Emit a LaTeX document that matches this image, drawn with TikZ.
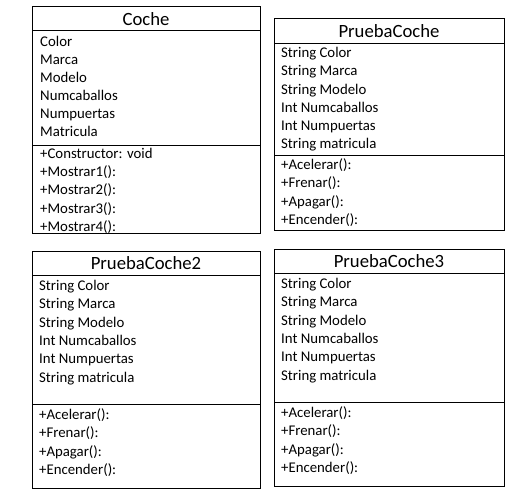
\documentclass[tikz,border=0pt]{standalone}
\usepackage{fontspec}
\setmainfont{Carlito}
\tikzset{
  cls/.style={draw=black, line width=0.8pt, rectangle, inner sep=0pt, anchor=north west},
  ttl/.style={anchor=base, font=\fontsize{18.7}{20}\selectfont, inner sep=0pt},
  itm/.style={anchor=base west, font=\fontsize{14.8}{16}\selectfont, inner sep=0pt},
  sepline/.style={line width=0.8pt}
}
\begin{document}
\begin{tikzpicture}[x=1pt,y=-1pt]
\useasboundingbox (0,0) rectangle (530,497);
% Coche
\node[cls, minimum width=228pt, minimum height=227pt] (coche) at (32,6) {};
\draw[sepline] (32,30) -- (260,30);
\draw[sepline] (32,145) -- (260,145);
\node[ttl] (cocheT) at (146,25.5) {Coche};
\foreach \t [count=\i from 0] in {Color,Marca,Modelo,Numcaballos,Numpuertas,Matricula}
  \node[itm] (cocheA\i) at (40,{46.5+18.1*\i}) {\t};
\foreach \t [count=\i from 0] in {+Constructor: void,+Mostrar1():,+Mostrar2():,+Mostrar3():,+Mostrar4():}
  \node[itm] (cocheM\i) at (40,{158.5+18.2*\i}) {\t};
% PruebaCoche
\node[cls, minimum width=230pt, minimum height=212pt] (pc) at (274,18) {};
\draw[sepline] (274,43) -- (504,43);
\draw[sepline] (274,155) -- (504,155);
\node[ttl] (pcT) at (389,37.5) {PruebaCoche};
\foreach \t [count=\i from 0] in {String Color,String Marca,String Modelo,Int Numcaballos,Int Numpuertas,String matricula}
  \node[itm] (pcA\i) at (281,{57.5+18.3*\i}) {\t};
\foreach \t [count=\i from 0] in {+Acelerar():,+Frenar():,+Apagar():,+Encender():}
  \node[itm] (pcM\i) at (281,{169.5+18.3*\i}) {\t};
% PruebaCoche2
\node[cls, minimum width=228pt, minimum height=237pt] (pcb) at (32,251) {};
\draw[sepline] (32,275) -- (260,275);
\draw[sepline] (32,404) -- (260,404);
\node[ttl] (pcbT) at (146,269.5) {PruebaCoche2};
\foreach \t [count=\i from 0] in {String Color,String Marca,String Modelo,Int Numcaballos,Int Numpuertas,String matricula}
  \node[itm] (pcbA\i) at (39,{290.5+18.3*\i}) {\t};
\foreach \t [count=\i from 0] in {+Acelerar():,+Frenar():,+Apagar():,+Encender():}
  \node[itm] (pcbM\i) at (39,{419.5+18.3*\i}) {\t};
% PruebaCoche3
\node[cls, minimum width=230pt, minimum height=237pt] (pcc) at (274,249) {};
\draw[sepline] (274,273) -- (504,273);
\draw[sepline] (274,402) -- (504,402);
\node[ttl] (pccT) at (389,267.5) {PruebaCoche3};
\foreach \t [count=\i from 0] in {String Color,String Marca,String Modelo,Int Numcaballos,Int Numpuertas,String matricula}
  \node[itm] (pccA\i) at (281,{288.5+18.3*\i}) {\t};
\foreach \t [count=\i from 0] in {+Acelerar():,+Frenar():,+Apagar():,+Encender():}
  \node[itm] (pccM\i) at (281,{417.5+18.3*\i}) {\t};
\end{tikzpicture}
\end{document}
